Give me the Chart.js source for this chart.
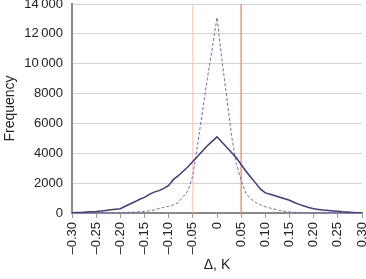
<!DOCTYPE html>
<html>
<head>
<meta charset="utf-8">
<script src="https://cdn.jsdelivr.net/npm/chart.js@4/dist/chart.umd.min.js"></script>
<style>
  html, body { margin: 0; padding: 0; background: #fff; }
  #wrap { width: 366px; height: 279px; }
</style>
</head>
<body>
<div id="wrap"><canvas id="myChart"></canvas></div>
<script>
// bin centres, K
var deltas = [-0.30,-0.29,-0.28,-0.27,-0.26,-0.25,-0.24,-0.23,-0.22,-0.21,
  -0.20,-0.19,-0.18,-0.17,-0.16,-0.15,-0.14,-0.13,-0.12,-0.11,
  -0.10,-0.09,-0.08,-0.07,-0.06,-0.05,-0.04,-0.03,-0.02,-0.01,
  0.00,0.01,0.02,0.03,0.04,0.05,0.06,0.07,0.08,0.09,
  0.10,0.11,0.12,0.13,0.14,0.15,0.16,0.17,0.18,0.19,
  0.20,0.21,0.22,0.23,0.24,0.25,0.26,0.27,0.28,0.29,0.30];

var solidFreq = [20,30,40,60,80,100,130,170,210,250,
  290,450,600,750,920,1050,1250,1400,1500,1650,
  1850,2250,2500,2800,3100,3450,3800,4150,4500,4800,
  5100,4750,4400,4050,3700,3250,2800,2400,2000,1600,
  1350,1250,1150,1050,950,850,700,580,470,370,
  280,240,200,170,140,110,80,60,40,20,10];

var dashedFreq = [0,0,0,5,5,10,10,15,20,25,
  30,40,50,60,80,100,150,200,300,380,
  450,550,700,1100,1500,2500,4600,6800,9000,11000,
  13100,10300,7800,5200,3300,2200,1300,950,700,550,
  420,330,250,170,110,70,50,35,25,20,
  15,10,10,5,5,5,0,0,0,0,0];

var limits = [-0.05, 0.05];
var yMax = 14000;

function pts(xs, ys) {
  return xs.map(function (x, i) { return { x: x, y: ys[i] }; });
}

const data = {
  datasets: [{
    label: 'solid',
    data: pts(deltas, solidFreq),
    borderColor: '#3d3a8c',
    borderWidth: 1.5,
    pointRadius: 0,
    tension: 0
  }, {
    label: 'dashed',
    data: pts(deltas, dashedFreq),
    borderColor: '#6f6cb4',
    borderWidth: 1,
    borderDash: [3, 2],
    pointRadius: 0,
    tension: 0
  }, {
    label: 'low',
    data: [{ x: limits[0], y: 0 }, { x: limits[0], y: yMax }],
    borderColor: '#f7c2aa',
    borderWidth: 1,
    pointRadius: 0
  }, {
    label: 'high',
    data: [{ x: limits[1], y: 0 }, { x: limits[1], y: yMax }],
    borderColor: '#f29a7e',
    borderWidth: 1.6,
    pointRadius: 0
  }]
};

const font = { family: '"Liberation Sans", Arial, sans-serif', size: 13 };

const config = {
  type: 'line',
  data: data,
  options: {
    responsive: true,
    maintainAspectRatio: false,
    animation: false,
    layout: { padding: { top: 4, right: 4, left: 0, bottom: 0 } },
    plugins: { legend: { display: false }, tooltip: { enabled: false } },
    scales: {
      x: {
        type: 'linear',
        min: -0.3,
        max: 0.3,
        ticks: {
          stepSize: 0.05,
          maxRotation: 90,
          minRotation: 90,
          padding: 4,
          color: '#222',
          font: font,
          callback: function (v) {
            if (Math.abs(v) < 1e-9) return '0';
            return (v < 0 ? '\u2013' : '') + Math.abs(v).toFixed(2);
          }
        },
        grid: { drawOnChartArea: false, drawTicks: true, tickLength: 5, color: '#999' },
        border: { color: '#8a8a8a', width: 2 },
        title: {
          display: true,
          text: '\u0394, K',
          color: '#222',
          font: { family: font.family, size: 14 },
          padding: { top: 0, bottom: 5 }
        },
        afterFit: function (s) { s.height = 66; s.paddingLeft = 0; s.paddingRight = 0; }
      },
      y: {
        min: 0,
        max: yMax,
        ticks: {
          stepSize: 2000,
          padding: 9,
          color: '#222',
          font: font,
          callback: function (v) {
            if (v >= 10000) return Math.floor(v / 1000) + '\u2009' + String(v % 1000).padStart(3, '0');
            return String(v);
          }
        },
        grid: { color: '#d4d4d4', lineWidth: 1, drawTicks: false },
        border: { color: '#8a8a8a', width: 2 },
        title: {
          display: true,
          text: 'Frequency',
          color: '#222',
          font: { family: font.family, size: 14 },
          padding: { top: 2, bottom: 0 }
        },
        afterFit: function (s) { s.width = 72; s.paddingTop = 0; s.paddingBottom = 0; }
      }
    }
  }
};

const myChart = new Chart(document.getElementById('myChart'), config);
</script>
</body>
</html>
